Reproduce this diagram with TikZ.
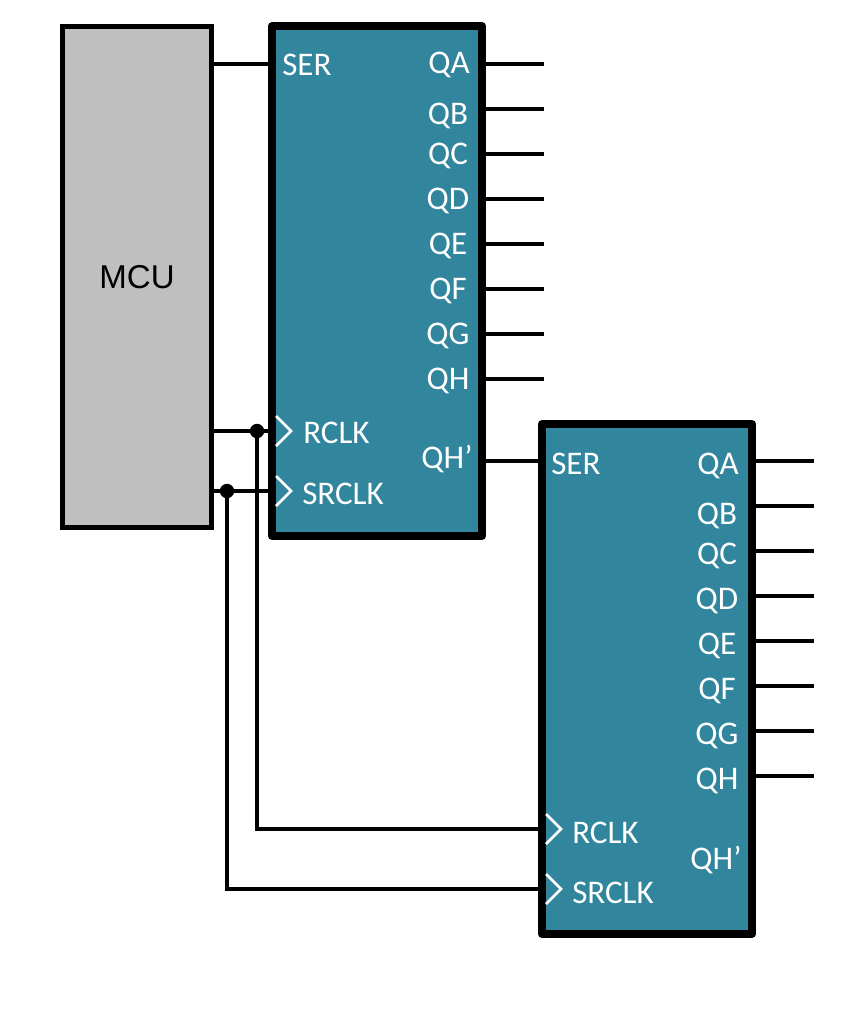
\documentclass[tikz,border=0pt]{standalone}
\usepackage{fontspec}
\setmainfont{Carlito}
\newfontfamily\mcufont{Liberation Sans}
\definecolor{srteal}{RGB}{49,133,156}
\definecolor{mcugray}{RGB}{191,191,191}
\tikzset{
srbox/.style={draw=black, fill=srteal, line width=0.2cm, line join=round,
minimum width=5.25cm, minimum height=12.74cm, inner sep=0},
mcubox/.style={draw=black, fill=mcugray, line width=0.125cm,
minimum width=3.7cm, minimum height=12.5cm, inner sep=0},
pinq/.style={text=white, font=\fontsize{23.5}{23.5}\selectfont, anchor=base, inner sep=0},
pinin/.style={text=white, font=\fontsize{23.5}{23.5}\selectfont, anchor=base west, inner sep=0},
wire/.style={line width=0.09cm},
clkmark/.style={draw=white, line width=0.07cm},
junction/.style={circle, fill=black, minimum size=0.36cm, inner sep=0}
}

\begin{document}
\begin{tikzpicture}[x=0.025cm, y=-0.025cm]
\useasboundingbox (0,0) rectangle (862,1025);

% controller and the two registers
\node[mcubox, font=\mcufont\fontsize{23.5}{23.5}\selectfont] (mcu) at (137,277) {MCU};
\node[srbox] (srone) at (377,281) {};
\node[srbox] (srtwo) at (647,679) {};

% first register, inputs
\node[pinin] (serone) at (282,75) {SER};
\node[pinin] (rclkone) at (303,443) {RCLK};
\node[pinin] (srclkone) at (302,504) {SRCLK};
\draw[clkmark] (276,416) -- (291,431) -- (276,446);
\draw[clkmark] (276,476) -- (291,491) -- (276,506);

% first register, outputs
\node[pinq] (qaone) at (449,74) {QA};
\node[pinq] (qbone) at (448,124) {QB};
\node[pinq] (qcone) at (448,164) {QC};
\node[pinq] (qdone) at (448,209) {QD};
\node[pinq] (qeone) at (448,254) {QE};
\node[pinq] (qfone) at (448,299) {QF};
\node[pinq] (qgone) at (448,344) {QG};
\node[pinq] (qhone) at (448,389) {QH};
\node[pinq] (qhsone) at (447,468) {QH’};

% second register, inputs
\node[pinin] (sertwo) at (551,474) {SER};
\node[pinin] (rclktwo) at (572,843) {RCLK};
\node[pinin] (srclktwo) at (572,903) {SRCLK};
\draw[clkmark] (546,814) -- (561,829) -- (546,844);
\draw[clkmark] (546,874) -- (561,889) -- (546,904);

% second register, outputs
\node[pinq] (qatwo) at (718,474) {QA};
\node[pinq] (qbtwo) at (717,524) {QB};
\node[pinq] (qctwo) at (717,564) {QC};
\node[pinq] (qdtwo) at (717,609) {QD};
\node[pinq] (qetwo) at (717,654) {QE};
\node[pinq] (qftwo) at (717,699) {QF};
\node[pinq] (qgtwo) at (717,744) {QG};
\node[pinq] (qhtwo) at (717,789) {QH};
\node[pinq] (qhstwo) at (716,869) {QH’};

% free ends of the outputs
\coordinate (endaone) at (544,64);
\coordinate (endbone) at (544,109);
\coordinate (endcone) at (544,154);
\coordinate (enddone) at (544,199);
\coordinate (endeone) at (544,244);
\coordinate (endfone) at (544,289);
\coordinate (endgone) at (544,334);
\coordinate (endhone) at (544,379);
\coordinate (endatwo) at (814,461);
\coordinate (endbtwo) at (814,506);
\coordinate (endctwo) at (814,551);
\coordinate (enddtwo) at (814,596);
\coordinate (endetwo) at (814,641);
\coordinate (endftwo) at (814,686);
\coordinate (endgtwo) at (814,731);
\coordinate (endhtwo) at (814,776);

\draw[wire] (srone.east |- endaone) -- (endaone);
\draw[wire] (srone.east |- endbone) -- (endbone);
\draw[wire] (srone.east |- endcone) -- (endcone);
\draw[wire] (srone.east |- enddone) -- (enddone);
\draw[wire] (srone.east |- endeone) -- (endeone);
\draw[wire] (srone.east |- endfone) -- (endfone);
\draw[wire] (srone.east |- endgone) -- (endgone);
\draw[wire] (srone.east |- endhone) -- (endhone);
\draw[wire] (srtwo.east |- endatwo) -- (endatwo);
\draw[wire] (srtwo.east |- endbtwo) -- (endbtwo);
\draw[wire] (srtwo.east |- endctwo) -- (endctwo);
\draw[wire] (srtwo.east |- enddtwo) -- (enddtwo);
\draw[wire] (srtwo.east |- endetwo) -- (endetwo);
\draw[wire] (srtwo.east |- endftwo) -- (endftwo);
\draw[wire] (srtwo.east |- endgtwo) -- (endgtwo);
\draw[wire] (srtwo.east |- endhtwo) -- (endhtwo);

% data and clock lines
\coordinate (serin) at (270,64);
\coordinate (cascade) at (540,461);
\coordinate (rclkin) at (270,431);
\coordinate (srclkin) at (270,491);
\coordinate (rclkfar) at (540,829);
\coordinate (srclkfar) at (540,889);
\node[junction] (rjoin) at (257,431) {};
\node[junction] (sjoin) at (227,491) {};
\draw[wire] (mcu.east |- serin) -- (serin);
\draw[wire] (srone.east |- cascade) -- (cascade);
\draw[wire] (mcu.east |- rjoin) -- (rjoin) -- (rclkin);
\draw[wire] (mcu.east |- sjoin) -- (sjoin) -- (srclkin);
\draw[wire] (rjoin) |- (rclkfar);
\draw[wire] (sjoin) |- (srclkfar);
\end{tikzpicture}
\end{document}
